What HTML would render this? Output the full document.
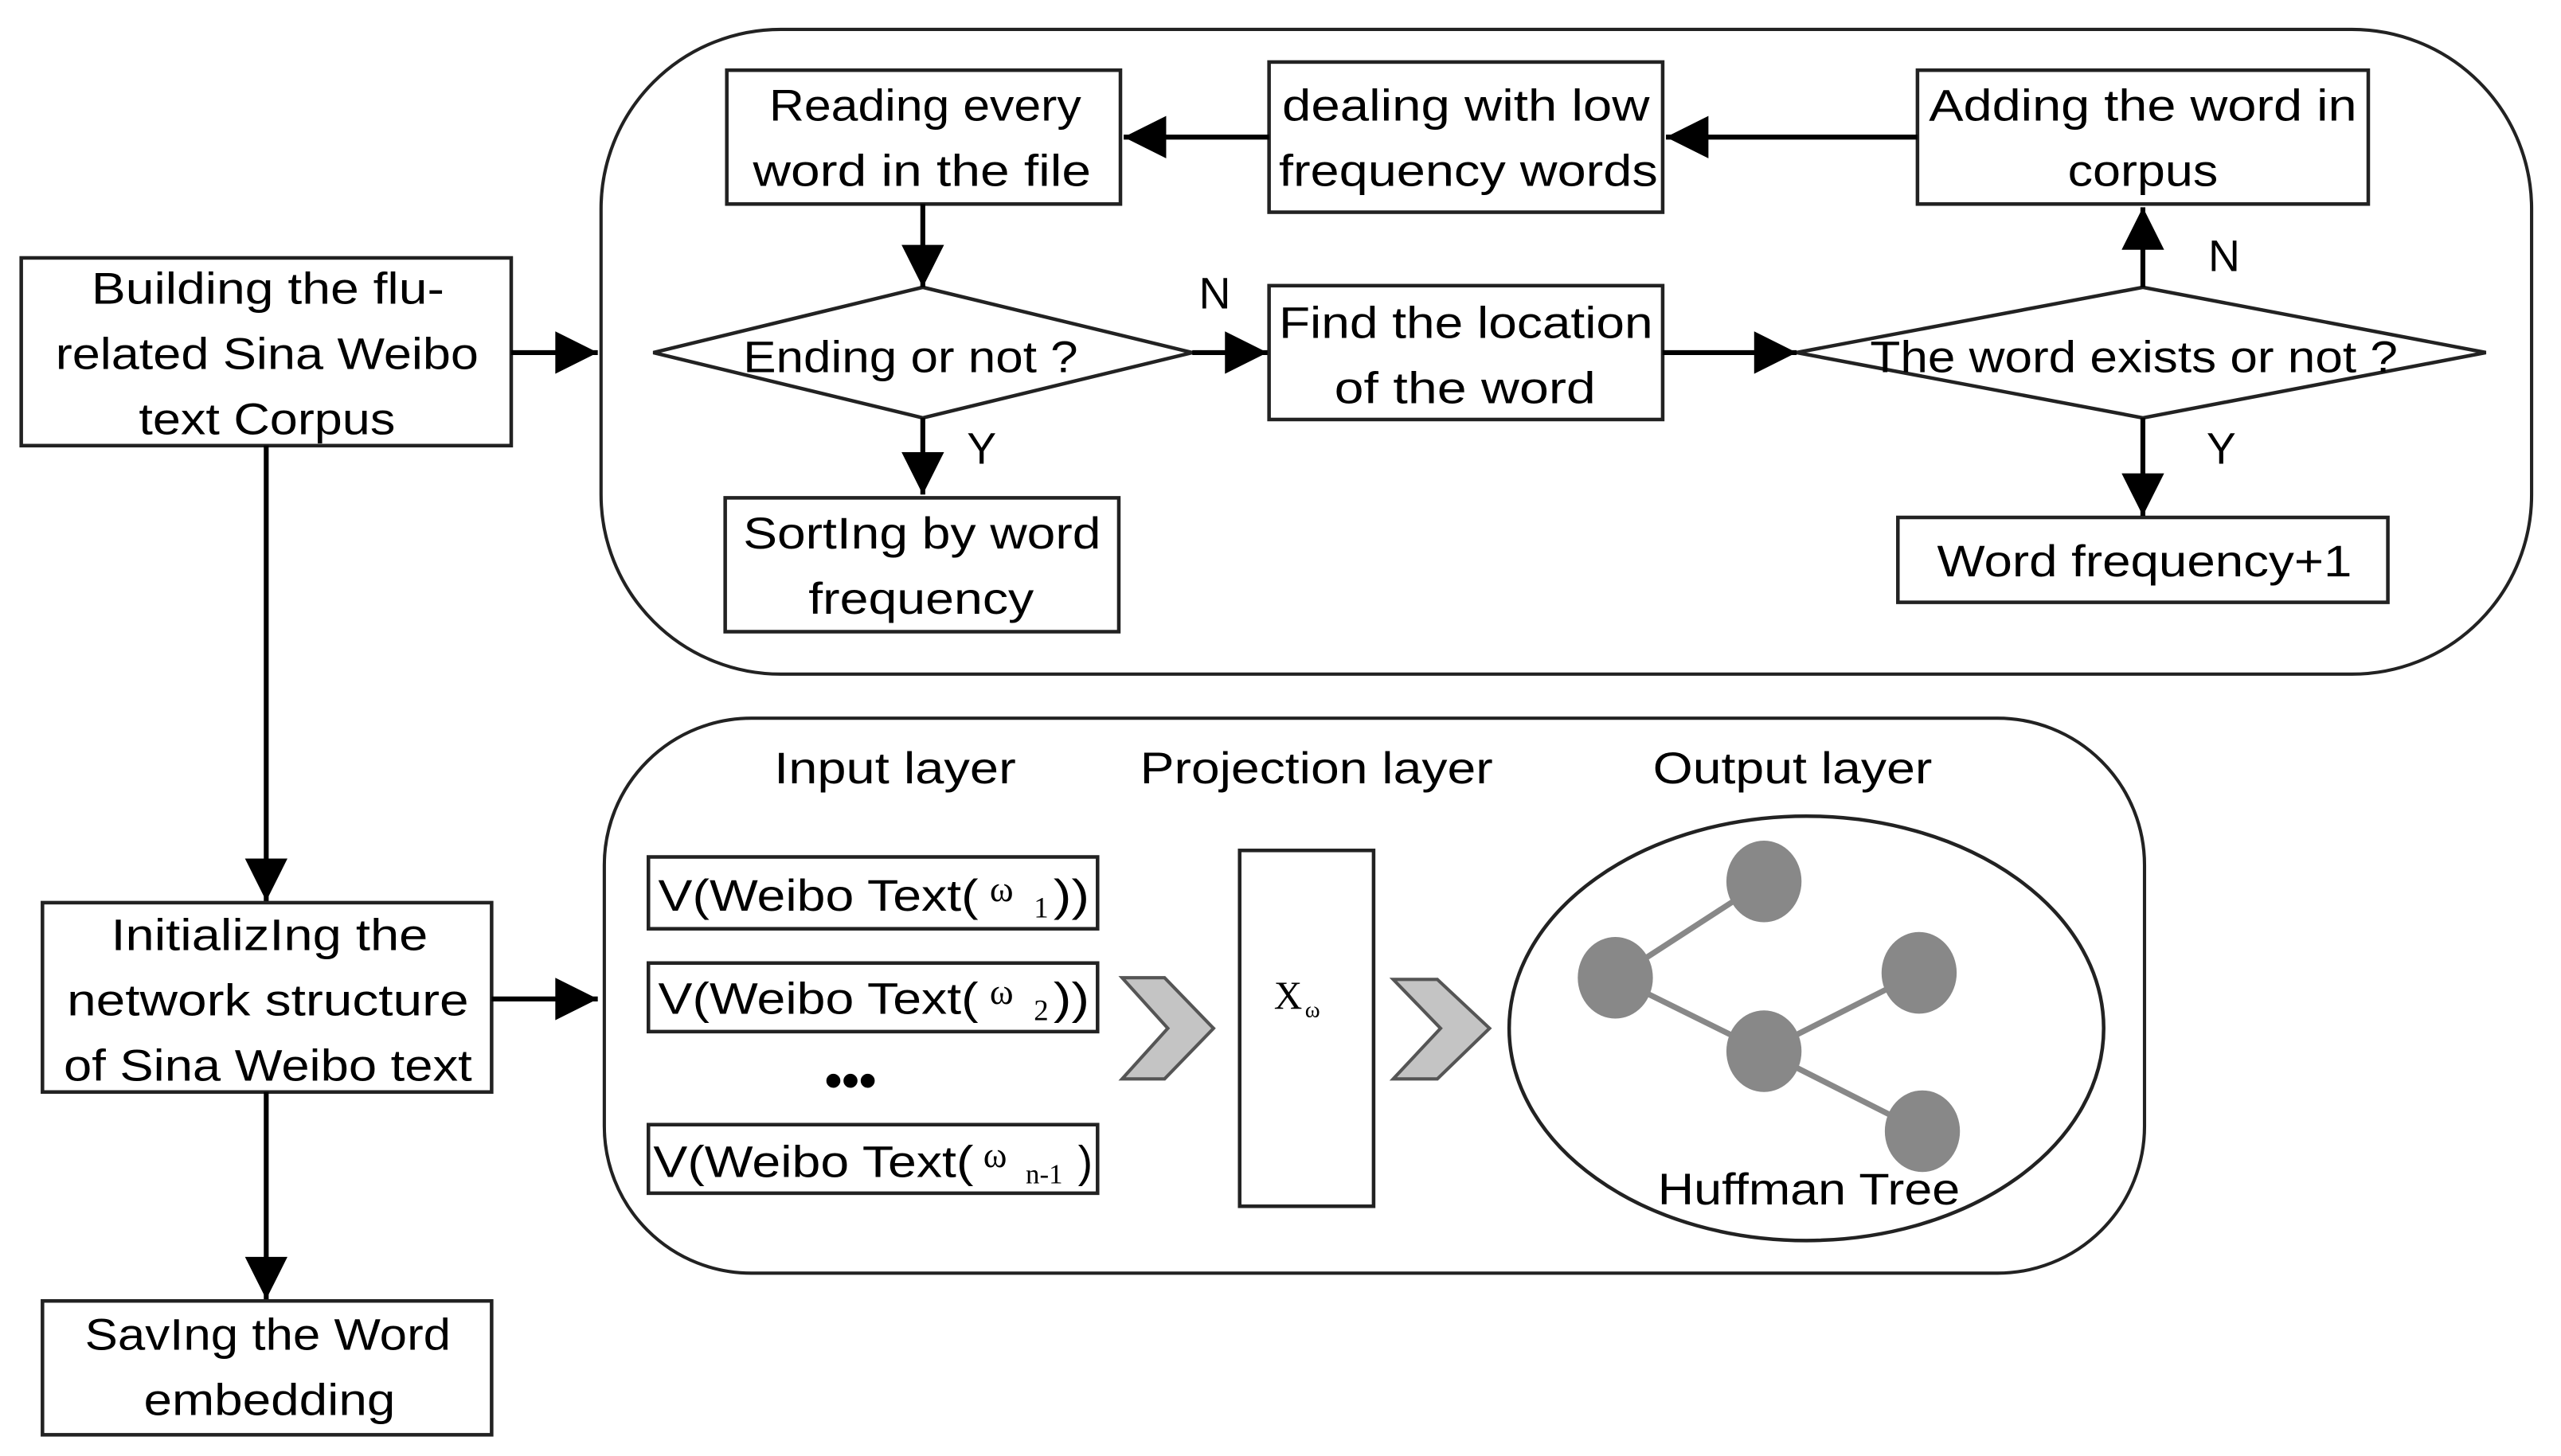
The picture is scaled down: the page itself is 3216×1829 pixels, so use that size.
<!DOCTYPE html>
<html><head><meta charset="utf-8"><style>
html,body{margin:0;padding:0;background:#fff}
svg{display:block}
text{font-family:"Liberation Sans",sans-serif;fill:#000}
</style></head><body>
<svg width="3216" height="1829" viewBox="0 0 1568 892" preserveAspectRatio="none" xmlns="http://www.w3.org/2000/svg">
<defs>
<marker id="ah" viewBox="0 0 10 10" refX="10" refY="5" markerWidth="28" markerHeight="26" markerUnits="userSpaceOnUse" orient="auto">
<path d="M0,0 L10,5 L0,10 z" fill="#000"/></marker>
</defs>
<g fill="none" stroke="#222" stroke-width="2">
<rect x="368" y="18" width="1182" height="395" rx="110" ry="110"/>
<rect x="370" y="440" width="943" height="340" rx="90" ry="90"/>
</g>
<g fill="#fff" stroke="#222" stroke-width="2.2">
<rect x="13" y="158" width="300" height="115"/>
<rect x="445" y="43" width="241" height="82"/>
<rect x="777" y="38" width="241" height="92"/>
<rect x="1174" y="43" width="276" height="82"/>
<rect x="777" y="175" width="241" height="82"/>
<rect x="1162" y="317" width="300" height="52"/>
<rect x="444" y="305" width="241" height="82"/>
<rect x="26" y="553" width="275" height="116"/>
<rect x="26" y="797" width="275" height="82"/>
<polygon points="400,216 565,176 730,216 565,256"/>
<polygon points="1100,216 1312,176 1522,216 1312,256"/>
<rect x="397" y="525" width="275" height="44"/>
<rect x="397" y="590" width="275" height="42"/>
<rect x="397" y="689" width="275" height="42"/>
<rect x="759" y="521" width="82" height="218"/>
<ellipse cx="1106" cy="630" rx="182" ry="130"/>
</g>
<g stroke="#000" stroke-width="3" marker-end="url(#ah)">
<line x1="1174" y1="84" x2="1020" y2="84"/>
<line x1="777" y1="84" x2="688" y2="84"/>
<line x1="565" y1="125" x2="565" y2="176"/>
<line x1="730" y1="216" x2="776" y2="216"/>
<line x1="1018" y1="216" x2="1100" y2="216"/>
<line x1="1312" y1="176" x2="1312" y2="127"/>
<line x1="1312" y1="256" x2="1312" y2="316"/>
<line x1="565" y1="256" x2="565" y2="303"/>
<line x1="313" y1="216" x2="366" y2="216"/>
<line x1="163" y1="273" x2="163" y2="552"/>
<line x1="301" y1="612" x2="366" y2="612"/>
<line x1="163" y1="669" x2="163" y2="796"/>
</g>
<g fill="#c4c4c4" stroke="#555" stroke-width="2">
<polygon points="687,599 713,599 743,630 713,661 687,661 715,630"/>
<polygon points="853,600 880,600 912,630 880,661 853,661 882,630"/>
</g>
<g stroke="#888" stroke-width="3.5">
<line x1="989" y1="599" x2="1080" y2="540"/>
<line x1="989" y1="599" x2="1080" y2="644"/>
<line x1="1080" y1="644" x2="1175" y2="596"/>
<line x1="1080" y1="644" x2="1177" y2="693"/>
</g>
<g fill="#888">
<ellipse cx="1080" cy="540" rx="23" ry="25"/>
<ellipse cx="989" cy="599" rx="23" ry="25"/>
<ellipse cx="1175" cy="596" rx="23" ry="25"/>
<ellipse cx="1080" cy="644" rx="23" ry="25"/>
<ellipse cx="1177" cy="693" rx="23" ry="25"/>
</g>
<g font-size="27">
<text x="56" y="186" textLength="216" lengthAdjust="spacingAndGlyphs">Building the flu-</text>
<text x="34" y="226" textLength="259" lengthAdjust="spacingAndGlyphs">related Sina Weibo</text>
<text x="85" y="266" textLength="157" lengthAdjust="spacingAndGlyphs">text Corpus</text>
<text x="471" y="74" textLength="191" lengthAdjust="spacingAndGlyphs">Reading every</text>
<text x="461" y="114" textLength="207" lengthAdjust="spacingAndGlyphs">word in the file</text>
<text x="785" y="74" textLength="225" lengthAdjust="spacingAndGlyphs">dealing with low</text>
<text x="783" y="114" textLength="232" lengthAdjust="spacingAndGlyphs">frequency words</text>
<text x="1181" y="74" textLength="262" lengthAdjust="spacingAndGlyphs">Adding the word in</text>
<text x="1266" y="114" textLength="92" lengthAdjust="spacingAndGlyphs">corpus</text>
<text x="455" y="228" textLength="205" lengthAdjust="spacingAndGlyphs">Ending or not ?</text>
<text x="783" y="207" textLength="229" lengthAdjust="spacingAndGlyphs">Find the location</text>
<text x="817" y="247" textLength="160" lengthAdjust="spacingAndGlyphs">of the word</text>
<text x="1145" y="228" textLength="323" lengthAdjust="spacingAndGlyphs">The word exists or not ?</text>
<text x="1186" y="353" textLength="254" lengthAdjust="spacingAndGlyphs">Word frequency+1</text>
<text x="455" y="336" textLength="219" lengthAdjust="spacingAndGlyphs">SortIng by word</text>
<text x="495" y="376" textLength="138" lengthAdjust="spacingAndGlyphs">frequency</text>
<text x="734" y="189">N</text>
<text x="592" y="284">Y</text>
<text x="1352" y="166">N</text>
<text x="1351" y="284">Y</text>
<text x="68" y="582" textLength="194" lengthAdjust="spacingAndGlyphs">InitializIng the</text>
<text x="41" y="622" textLength="246" lengthAdjust="spacingAndGlyphs">network structure</text>
<text x="39" y="662" textLength="250" lengthAdjust="spacingAndGlyphs">of Sina Weibo text</text>
<text x="52" y="827" textLength="224" lengthAdjust="spacingAndGlyphs">SavIng the Word</text>
<text x="88" y="867" textLength="154" lengthAdjust="spacingAndGlyphs">embedding</text>
<text x="474" y="480" textLength="148" lengthAdjust="spacingAndGlyphs">Input layer</text>
<text x="698" y="480" textLength="216" lengthAdjust="spacingAndGlyphs">Projection layer</text>
<text x="1012" y="480" textLength="171" lengthAdjust="spacingAndGlyphs">Output layer</text>
<text x="1015" y="738" textLength="185" lengthAdjust="spacingAndGlyphs">Huffman Tree</text>
<text x="403" y="558" textLength="196" lengthAdjust="spacingAndGlyphs">V(Weibo Text(</text>
<text x="645" y="558" textLength="22" lengthAdjust="spacingAndGlyphs">))</text>
<text x="403" y="621" textLength="196" lengthAdjust="spacingAndGlyphs">V(Weibo Text(</text>
<text x="645" y="621" textLength="22" lengthAdjust="spacingAndGlyphs">))</text>
<text x="400" y="721" textLength="196" lengthAdjust="spacingAndGlyphs">V(Weibo Text(</text>
<text x="660" y="721">)</text>
</g>
<g>
<text x="606" y="552" font-size="22" style="font-family:'Liberation Serif',serif">ω</text>
<text x="633" y="562" font-size="18" style="font-family:'Liberation Serif',serif">1</text>
<text x="606" y="615" font-size="22" style="font-family:'Liberation Serif',serif">ω</text>
<text x="633" y="625" font-size="18" style="font-family:'Liberation Serif',serif">2</text>
<text x="602" y="715" font-size="22" style="font-family:'Liberation Serif',serif">ω</text>
<text x="628" y="725" font-size="17" style="font-family:'Liberation Serif',serif">n-1</text>
<text x="780" y="618" font-size="24" style="font-family:'Liberation Serif',serif">X</text>
<text x="799" y="623" font-size="14" style="font-family:'Liberation Serif',serif">ω</text>
</g>
<text x="505" y="672" font-size="30" font-weight="bold">•••</text>
</svg>
</body></html>
